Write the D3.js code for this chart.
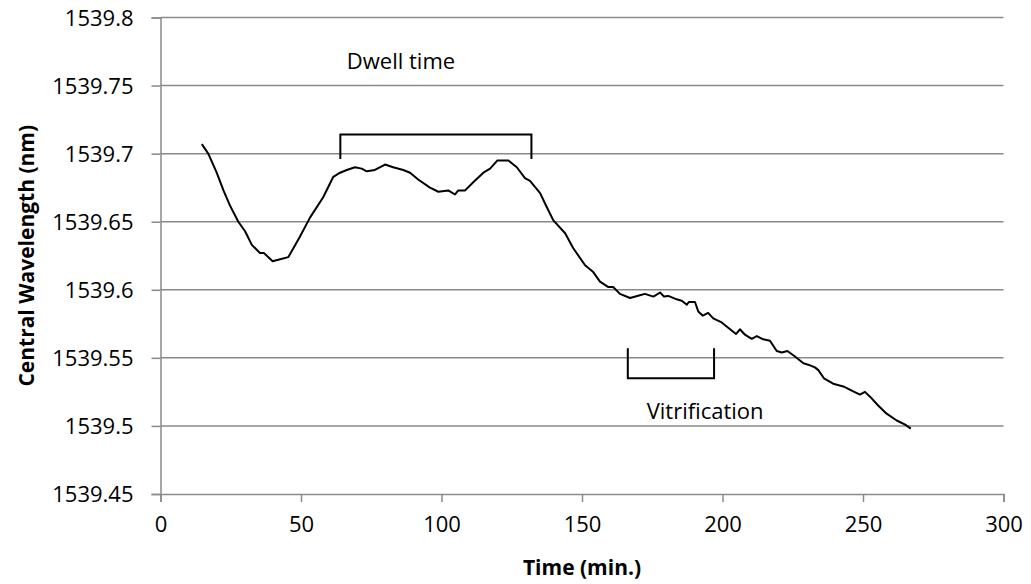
<!DOCTYPE html>
<html>
<head>
<meta charset="utf-8">
<script src="https://cdn.jsdelivr.net/npm/d3@7"></script>
<style>
  body { margin: 0; background: #fff; }
  text { font-family: "Open Sans", sans-serif; fill: #000; }
</style>
</head>
<body>
<script>
// data
const times = [14.7, 17, 20, 22.4, 24.7, 27.7, 30.1, 32.5, 35.4, 36.8, 39.9, 41.9, 45.5, 49.6, 53.2,
  57.9, 61.5, 63.9, 66.3, 69.2, 71.6, 73.4, 76.3, 79.9, 82.8, 86.4, 88.8, 91.7, 95.9, 98.9,
  102.4, 104.8, 106, 108.4, 111.3, 114.9, 117.3, 119.9, 123.8, 126.8, 129.7, 131.5, 135.1, 137.4,
  139.8, 144, 146.9, 151.1, 154, 156.4, 159.4, 161.1, 163.5, 167.1, 170.6, 172.4, 175.4, 177.8,
  179.2, 180.7, 183.7, 185.5, 187.3, 188, 190.2, 191.4, 193, 194.9, 196.7, 199.7, 202.7, 204.8,
  206.2, 208, 210.4, 212.2, 214.5, 216.9, 219.3, 221.1, 223.1, 225.8, 228.8, 230.5, 232.9, 234.1,
  236.1, 239.4, 243, 246, 248.9, 250.7, 252.5, 255.4, 258.4, 262, 265, 267];
const wavelength = [1539.707, 1539.700, 1539.686, 1539.673, 1539.662, 1539.650, 1539.643, 1539.633,
  1539.627, 1539.627, 1539.621, 1539.622, 1539.624, 1539.639, 1539.653, 1539.668, 1539.683, 1539.686,
  1539.688, 1539.690, 1539.689, 1539.687, 1539.688, 1539.692, 1539.690, 1539.688, 1539.686, 1539.681,
  1539.675, 1539.672, 1539.673, 1539.670, 1539.673, 1539.673, 1539.679, 1539.686, 1539.689, 1539.695,
  1539.695, 1539.690, 1539.682, 1539.680, 1539.671, 1539.661, 1539.651, 1539.6415, 1539.6305, 1539.618,
  1539.613, 1539.606, 1539.602, 1539.602, 1539.597, 1539.594, 1539.596, 1539.597, 1539.595, 1539.598,
  1539.595, 1539.5955, 1539.593, 1539.592, 1539.589, 1539.591, 1539.591, 1539.584, 1539.581, 1539.583,
  1539.579, 1539.576, 1539.571, 1539.5675, 1539.571, 1539.567, 1539.564, 1539.566, 1539.5636, 1539.5626,
  1539.555, 1539.554, 1539.555, 1539.551, 1539.546, 1539.545, 1539.543, 1539.541, 1539.535, 1539.531,
  1539.529, 1539.526, 1539.523, 1539.525, 1539.5215, 1539.515, 1539.509, 1539.504, 1539.501, 1539.498];

const xTicks = [0, 50, 100, 150, 200, 250, 300];
const yTicks = [1539.45, 1539.5, 1539.55, 1539.6, 1539.65, 1539.7, 1539.75, 1539.8];

// bracket annotations: [x1, x2, yBar, yEnd]
const dwell = { label: "Dwell time", x1: 64, x2: 132, bar: 1539.714, end: 1539.696 };
const vitri = { label: "Vitrification", x1: 166.3, x2: 197, bar: 1539.535, end: 1539.557 };

const width = 1031, height = 584;
const margin = { top: 17.5, right: 27.5, bottom: 90, left: 160.5 };

const svg = d3.select("body").append("svg")
    .attr("width", width)
    .attr("height", height);

const x = d3.scaleLinear().domain([0, 300]).range([margin.left, width - margin.right]);
const y = d3.scaleLinear().domain([1539.45, 1539.8]).range([height - margin.bottom, margin.top]);

const gridColor = "#8a8a8a";

// horizontal gridlines
svg.append("g")
    .selectAll("line")
    .data(yTicks.slice(1))
    .join("line")
    .attr("x1", x(0)).attr("x2", x(300))
    .attr("y1", d => y(d)).attr("y2", d => y(d))
    .attr("stroke", gridColor)
    .attr("stroke-width", 1.5);

// y axis
const yAxis = svg.append("g")
    .attr("transform", `translate(${x(0)},0)`)
    .call(d3.axisLeft(y).tickValues(yTicks).tickSize(9).tickPadding(18).tickFormat(d => d3.format("")(+d.toFixed(2))));

// x axis
const xAxis = svg.append("g")
    .attr("transform", `translate(0,${y(1539.45)})`)
    .call(d3.axisBottom(x).tickValues(xTicks).tickSize(8).tickPadding(14).tickFormat(d3.format("d")));

[yAxis, xAxis].forEach(g => {
    g.select(".domain").attr("stroke", gridColor).attr("stroke-width", 1.5);
    g.selectAll(".tick line").attr("stroke", gridColor).attr("stroke-width", 1.5);
    g.selectAll(".tick text")
        .attr("fill", "#000")
        .style("font-family", '"Open Sans", sans-serif')
        .style("font-size", "22px");
});
yAxis.selectAll(".tick text").attr("dy", "0.36em");

// data line
const line = d3.line()
    .x((d, i) => x(times[i]))
    .y(d => y(d));

svg.append("path")
    .datum(wavelength)
    .attr("fill", "none")
    .attr("stroke", "#000")
    .attr("stroke-width", 2)
    .attr("stroke-linejoin", "round")
    .attr("d", line);

// brackets
function bracket(b) {
    const p = d3.path();
    p.moveTo(x(b.x1), y(b.end));
    p.lineTo(x(b.x1), y(b.bar));
    p.lineTo(x(b.x2), y(b.bar));
    p.lineTo(x(b.x2), y(b.end));
    svg.append("path")
        .attr("d", p.toString())
        .attr("fill", "none")
        .attr("stroke", "#000")
        .attr("stroke-width", 2);
}
bracket(dwell);
bracket(vitri);

svg.append("text")
    .attr("x", x(66.3)).attr("y", y(1539.762))
    .style("font-size", "22px")
    .text(dwell.label);

svg.append("text")
    .attr("x", x(173)).attr("y", y(1539.505))
    .style("font-size", "22px")
    .text(vitri.label);

// axis titles
svg.append("text")
    .attr("x", x(150)).attr("y", 575)
    .attr("text-anchor", "middle")
    .style("font-size", "21px")
    .style("font-weight", "bold")
    .text("Time (min.)");

svg.append("text")
    .attr("transform", `translate(34,${y(1539.625)}) rotate(-90)`)
    .attr("text-anchor", "middle")
    .style("font-size", "21px")
    .style("font-weight", "bold")
    .text("Central Wavelength (nm)");
</script>
</body>
</html>
